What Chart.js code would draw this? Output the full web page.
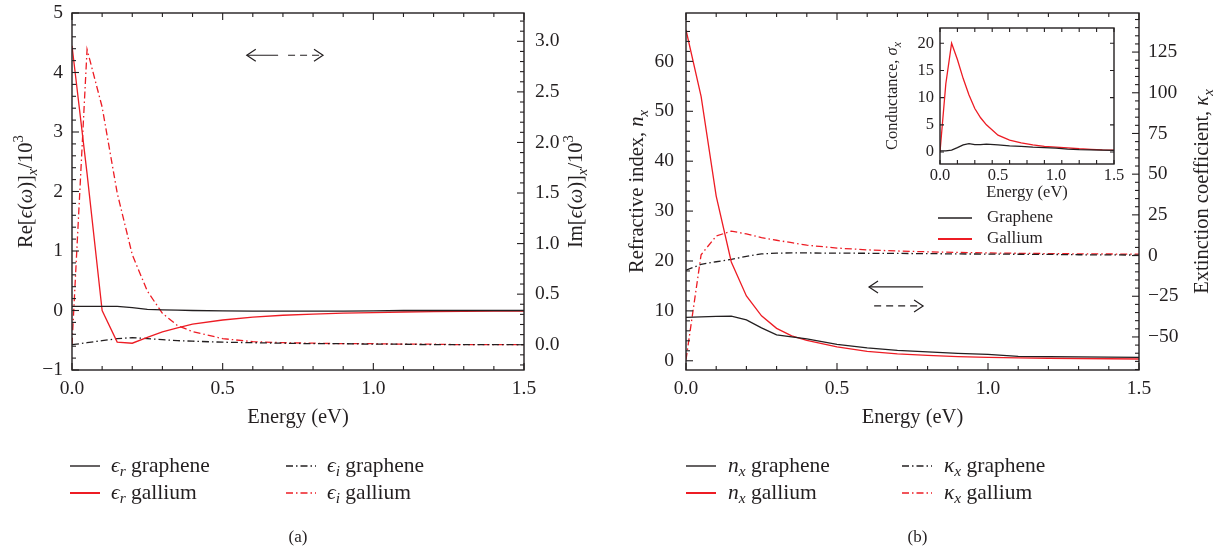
<!DOCTYPE html>
<html>
<head>
<meta charset="utf-8">
<script src="https://cdn.jsdelivr.net/npm/chart.js@4.4.1/dist/chart.umd.min.js"></script>
<style>
  html, body { margin: 0; padding: 0; background: #fff; }
  #wrap { position: relative; width: 1223px; height: 552px; overflow: hidden; }
  canvas { position: absolute; top: 0; }
  #pa { left: 0; }
  #pb { left: 612px; }
  #pc { left: 860px; }
</style>
</head>
<body>
<div id="wrap">
  <canvas id="pa" width="612" height="552"></canvas>
  <canvas id="pb" width="611" height="552"></canvas>
  <canvas id="pc" width="270" height="260"></canvas>
</div>
<script>
// ---- data ----
const energy = [0, 0.05, 0.1, 0.15, 0.2, 0.25, 0.3, 0.35, 0.4, 0.5, 0.6, 0.7, 0.8, 0.9, 1.0, 1.1, 1.2, 1.3, 1.4, 1.5];

// panel (a): dielectric function, /10^3
const erGraphene = [0.07, 0.07, 0.07, 0.07, 0.05, 0.02, 0.01, 0.005, 0.0, -0.005, -0.01, -0.01, -0.01, -0.01, -0.005, 0, 0, 0, 0, 0];
const erGallium  = [4.45, 2.3, 0.0, -0.53, -0.55, -0.45, -0.36, -0.29, -0.23, -0.16, -0.11, -0.08, -0.06, -0.045, -0.035, -0.025, -0.02, -0.015, -0.01, -0.01];
const eiGraphene = [0.0, 0.02, 0.04, 0.06, 0.07, 0.06, 0.05, 0.04, 0.035, 0.025, 0.02, 0.015, 0.01, 0.01, 0.005, 0.005, 0, 0, 0, 0];
const eiGallium  = [0.0, 2.92, 2.35, 1.50, 0.89, 0.53, 0.31, 0.19, 0.13, 0.06, 0.03, 0.02, 0.015, 0.01, 0.01, 0.005, 0.005, 0, 0, 0];

// panel (b): refractive index and extinction coefficient
const nGraphene = [8.7, 8.8, 8.9, 8.95, 8.2, 6.6, 5.2, 4.8, 4.4, 3.3, 2.6, 2.1, 1.8, 1.5, 1.3, 0.9, 0.85, 0.8, 0.75, 0.7];
const nGallium  = [66.3, 53, 33, 19.8, 13, 9, 6.5, 5, 4.1, 2.8, 1.9, 1.4, 1.1, 0.85, 0.7, 0.6, 0.5, 0.45, 0.4, 0.35];
const kGraphene = [-9, -5.4, -3.8, -2.3, -0.5, 1.0, 1.5, 1.6, 1.6, 1.5, 1.4, 1.3, 1.2, 1.0, 0.9, 0.8, 0.7, 0.5, 0.4, 0.3];
const kGallium  = [-64, 0.5, 12, 15, 13.3, 11, 9.4, 7.9, 6.4, 4.6, 3.5, 2.8, 2.3, 1.9, 1.6, 1.4, 1.2, 1.05, 0.95, 0.9];

// inset: conductance
const sigmaGraphene = [0.2, 0.2, 0.35, 0.8, 1.3, 1.55, 1.35, 1.35, 1.45, 1.3, 1.15, 1.05, 0.9, 0.8, 0.7, 0.55, 0.45, 0.4, 0.35, 0.3];
const sigmaGallium  = [0, 12.5, 20, 17, 13.5, 10.5, 8.0, 6.3, 5.0, 3.1, 2.2, 1.7, 1.3, 1.05, 0.9, 0.75, 0.6, 0.5, 0.4, 0.35];

// tick labels
const energyTicks = [0, 0.5, 1.0, 1.5];
const reTicks = [-1, 0, 1, 2, 3, 4, 5];
const imTicks = [0, 0.5, 1.0, 1.5, 2.0, 2.5, 3.0];
const nTicks = [0, 10, 20, 30, 40, 50, 60];
const kTicks = [-50, -25, 0, 25, 50, 75, 100, 125];
const sigmaTicks = [0, 5, 10, 15, 20];

// ---- styling ----
const FONT = '"Liberation Serif", "DejaVu Serif", serif';
const INK = '#231f20';
const RED = '#ed1c24';
const DASHDOT = [7, 3, 1.5, 3];

const xy = arr => energy.map((x, i) => ({ x: x, y: arr[i] }));
const minus = v => (v < 0 ? '\u2212' + Math.abs(v) : String(v));

function line(label, arr, color, dash, axis) {
  return {
    label: label, data: xy(arr), yAxisID: axis,
    borderColor: color, borderWidth: 1.3, borderDash: dash,
    pointRadius: 0, tension: 0, fill: false
  };
}

function richFont(style, size) {
  const small = style === 'b' || style === 'p';
  const it = style === 'i' || style === 'b' ? 'italic ' : '';
  return it + (small ? size * 0.72 : size) + 'px ' + FONT;
}

// draw text made of [text, style] parts: '' normal, 'i' italic, 'b' italic subscript, 'p' superscript
function rich(ctx, segs, x, y, size, rot, align) {
  ctx.save();
  ctx.translate(x, y);
  ctx.rotate(rot || 0);
  ctx.fillStyle = INK;
  ctx.textBaseline = 'middle';
  ctx.textAlign = 'left';
  let w = 0;
  segs.forEach(s => { ctx.font = richFont(s[1], size); w += ctx.measureText(s[0]).width; });
  let cx = align === 'left' ? 0 : -w / 2;
  segs.forEach(s => {
    ctx.font = richFont(s[1], size);
    const dy = s[1] === 'b' ? size * 0.28 : s[1] === 'p' ? -size * 0.38 : 0;
    ctx.fillText(s[0], cx, dy);
    cx += ctx.measureText(s[0]).width;
  });
  ctx.restore();
}

function arrowLine(ctx, x1, x2, y, dashed) {
  const dir = x2 > x1 ? 1 : -1;
  ctx.setLineDash(dashed ? [7, 5] : []);
  ctx.beginPath(); ctx.moveTo(x1, y); ctx.lineTo(x2, y); ctx.stroke();
  ctx.setLineDash([]);
  ctx.beginPath();
  ctx.moveTo(x2 - dir * 9, y - 6); ctx.lineTo(x2, y); ctx.lineTo(x2 - dir * 9, y + 6);
  ctx.stroke();
}

// frame, inward ticks, titles, arrows and legend, all placed from the chart's own scales
function decor(cfg) {
  return {
    id: 'decor',
    afterDatasetsDraw(chart) {
      const ctx = chart.ctx, a = chart.chartArea;
      ctx.save();
      ctx.strokeStyle = INK;
      ctx.lineWidth = 1.4;
      ctx.setLineDash([]);
      ctx.strokeRect(a.left, a.top, a.right - a.left, a.bottom - a.top);
      ctx.lineWidth = 1.1;
      cfg.ticks.forEach(t => {
        const s = chart.scales[t.id];
        const k0 = Math.ceil((s.min - 1e-9) / t.minor), k1 = Math.floor((s.max + 1e-9) / t.minor);
        for (let k = k0; k <= k1; k++) {
          const v = k * t.minor;
          const major = t.major && Math.abs(v / t.major - Math.round(v / t.major)) < 1e-6;
          const len = major ? t.long : t.short;
          const p = s.getPixelForValue(v);
          ctx.beginPath();
          t.sides.forEach(side => {
            if (side === 'bottom') { ctx.moveTo(p, a.bottom); ctx.lineTo(p, a.bottom - len); }
            if (side === 'top') { ctx.moveTo(p, a.top); ctx.lineTo(p, a.top + len); }
            if (side === 'left') { ctx.moveTo(a.left, p); ctx.lineTo(a.left + len, p); }
            if (side === 'right') { ctx.moveTo(a.right, p); ctx.lineTo(a.right - len, p); }
          });
          ctx.stroke();
        }
      });
      ctx.lineWidth = 1.2;
      (cfg.arrows || []).forEach(ar => {
        const sx = chart.scales.x, sy = chart.scales[ar.axis];
        arrowLine(ctx, sx.getPixelForValue(ar.from), sx.getPixelForValue(ar.to), sy.getPixelForValue(ar.y), ar.dashed);
      });
      const cxm = (a.left + a.right) / 2, cym = (a.top + a.bottom) / 2;
      const tt = cfg.titles;
      rich(ctx, tt.x, cxm, a.bottom + tt.xGap, tt.size, 0);
      rich(ctx, tt.left, a.left - tt.leftGap, cym, tt.size, -Math.PI / 2);
      if (tt.right) rich(ctx, tt.right, a.right + tt.rightGap, cym, tt.size, -Math.PI / 2);
      const lg = cfg.legend;
      lg.items.forEach(it => {
        const x0 = a.left + it.col, y0 = it.row;
        ctx.strokeStyle = it.color;
        ctx.lineWidth = it.color === RED && !it.dash.length ? 2 : 1.4;
        ctx.setLineDash(it.dash);
        ctx.beginPath(); ctx.moveTo(x0, y0); ctx.lineTo(x0 + lg.sample, y0); ctx.stroke();
        ctx.setLineDash([]);
        rich(ctx, it.segs, x0 + lg.textGap, y0, lg.size, 0, 'left');
      });
      if (cfg.caption) rich(ctx, [[cfg.caption, '']], cxm + cfg.captionShift, cfg.captionY, 17, 0);
      ctx.restore();
    }
  };
}

function axis(pos, min, max, ticks, fmt, size, pad, fit) {
  const o = {
    type: 'linear', position: pos, min: min, max: max,
    afterBuildTicks: s => { s.ticks = ticks.map(v => ({ value: v })); },
    ticks: { font: { family: FONT, size: size }, color: INK, padding: pad, autoSkip: false, maxRotation: 0, callback: fmt },
    grid: { display: false, drawTicks: false },
    border: { display: false }
  };
  // fixed box sizes, and no extra room for overhanging end labels
  if (pos === 'bottom') o.afterFit = s => { s.height = fit; s.paddingLeft = 0; s.paddingRight = 0; };
  else o.afterFit = s => { s.width = fit; s.paddingTop = 0; s.paddingBottom = 0; };
  return o;
}

const baseOpts = (padding, scales) => ({
  responsive: false, animation: false,
  layout: { padding: padding },
  plugins: { legend: { display: false }, tooltip: { enabled: false } },
  scales: scales
});

// ---- panel (a) ----
new Chart(document.getElementById('pa'), {
  type: 'line',
  data: { datasets: [
    line('\u03f5r graphene', erGraphene, INK, [], 'y'),
    line('\u03f5r gallium', erGallium, RED, [], 'y'),
    line('\u03f5i graphene', eiGraphene, INK, DASHDOT, 'y2'),
    line('\u03f5i gallium', eiGallium, RED, DASHDOT, 'y2')
  ] },
  options: baseOpts({ top: 13, bottom: 122, left: 0, right: 0 }, {
    x: axis('bottom', 0, 1.5, energyTicks, v => v.toFixed(1), 19.5, 7, 60),
    y: axis('left', -1, 5, reTicks, minus, 19.5, 9, 72),
    y2: axis('right', -0.25, 3.28, imTicks, v => v.toFixed(1), 19.5, 11, 88)
  }),
  plugins: [decor({
    ticks: [
      { id: 'x', major: 0.5, minor: 0.1, long: 7, short: 4, sides: ['bottom', 'top'] },
      { id: 'y', major: 1, minor: 0.2, long: 7, short: 4, sides: ['left'] },
      { id: 'y2', major: 0.5, minor: 0.1, long: 7, short: 4, sides: ['right'] }
    ],
    arrows: [
      { axis: 'y', y: 4.29, from: 0.684, to: 0.58, dashed: false },
      { axis: 'y', y: 4.29, from: 0.717, to: 0.833, dashed: true }
    ],
    titles: {
      size: 20.5, xGap: 48, leftGap: 45, rightGap: 53,
      x: [['Energy (eV)', '']],
      left: [['Re[', ''], ['\u03f5', 'i'], ['(', ''], ['\u03c9', 'i'], [')]', ''], ['x', 'b'], ['/10', ''], ['3', 'p']],
      right: [['Im[', ''], ['\u03f5', 'i'], ['(', ''], ['\u03c9', 'i'], [')]', ''], ['x', 'b'], ['/10', ''], ['3', 'p']]
    },
    legend: {
      size: 21.5, sample: 30, textGap: 41,
      items: [
        { col: -2, row: 466, color: INK, dash: [], segs: [['\u03f5', 'i'], ['r', 'b'], [' graphene', '']] },
        { col: -2, row: 493, color: RED, dash: [], segs: [['\u03f5', 'i'], ['r', 'b'], [' gallium', '']] },
        { col: 214, row: 466, color: INK, dash: DASHDOT, segs: [['\u03f5', 'i'], ['i', 'b'], [' graphene', '']] },
        { col: 214, row: 493, color: RED, dash: DASHDOT, segs: [['\u03f5', 'i'], ['i', 'b'], [' gallium', '']] }
      ]
    },
    caption: '(a)', captionShift: 0, captionY: 538
  })]
});

// ---- panel (b) ----
new Chart(document.getElementById('pb'), {
  type: 'line',
  data: { datasets: [
    line('nx graphene', nGraphene, INK, [], 'y'),
    line('nx gallium', nGallium, RED, [], 'y'),
    line('\u03bax graphene', kGraphene, INK, DASHDOT, 'y2'),
    line('\u03bax gallium', kGallium, RED, DASHDOT, 'y2')
  ] },
  options: baseOpts({ top: 13, bottom: 122, left: 0, right: 0 }, {
    x: axis('bottom', 0, 1.5, energyTicks, v => v.toFixed(1), 19.5, 7, 60),
    y: axis('left', -1.85, 69.7, nTicks, minus, 19.5, 12, 74),
    y2: axis('right', -70.3, 149, kTicks, minus, 19.5, 9, 84)
  }),
  plugins: [decor({
    ticks: [
      { id: 'x', major: 0.5, minor: 0.1, long: 7, short: 4, sides: ['bottom', 'top'] },
      { id: 'y', major: 10, minor: 2, long: 7, short: 4, sides: ['left'] },
      { id: 'y2', major: 25, minor: 5, long: 7, short: 4, sides: ['right'] }
    ],
    arrows: [
      { axis: 'y', y: 14.8, from: 0.785, to: 0.606, dashed: false },
      { axis: 'y', y: 11.0, from: 0.623, to: 0.785, dashed: true }
    ],
    titles: {
      size: 20.5, xGap: 48, leftGap: 48, rightGap: 64,
      x: [['Energy (eV)', '']],
      left: [['Refractive index, ', ''], ['n', 'i'], ['x', 'b']],
      right: [['Extinction coefficient, ', ''], ['\u03ba', 'i'], ['x', 'b']]
    },
    legend: {
      size: 21.5, sample: 30, textGap: 42,
      items: [
        { col: 0, row: 466, color: INK, dash: [], segs: [['n', 'i'], ['x', 'b'], [' graphene', '']] },
        { col: 0, row: 493, color: RED, dash: [], segs: [['n', 'i'], ['x', 'b'], [' gallium', '']] },
        { col: 216, row: 466, color: INK, dash: DASHDOT, segs: [['\u03ba', 'i'], ['x', 'b'], [' graphene', '']] },
        { col: 216, row: 493, color: RED, dash: DASHDOT, segs: [['\u03ba', 'i'], ['x', 'b'], [' gallium', '']] }
      ]
    },
    caption: '(b)', captionShift: 5, captionY: 538
  })]
});

// ---- inset: conductance ----
new Chart(document.getElementById('pc'), {
  type: 'line',
  data: { datasets: [
    line('Graphene', sigmaGraphene, INK, [], 'y'),
    line('Gallium', sigmaGallium, RED, [], 'y')
  ] },
  options: baseOpts({ top: 28, bottom: 36, left: 0, right: 16 }, {
    x: axis('bottom', 0, 1.5, energyTicks, v => v.toFixed(1), 16.5, 2, 60),
    y: axis('left', -2.2, 22.8, sigmaTicks, minus, 16.5, 6, 80)
  }),
  plugins: [decor({
    ticks: [
      { id: 'x', major: 0, minor: 0.15, long: 4, short: 4, sides: ['bottom', 'top'] },
      { id: 'y', major: 0, minor: 5, long: 4, short: 4, sides: ['left', 'right'] }
    ],
    titles: {
      size: 16.5, xGap: 29, leftGap: 47,
      x: [['Energy (eV)', '']],
      left: [['Conductance, ', ''], ['\u03c3', 'i'], ['x', 'b']]
    },
    legend: {
      size: 17, sample: 34, textGap: 49,
      items: [
        { col: -2, row: 218, color: INK, dash: [], segs: [['Graphene', '']] },
        { col: -2, row: 239, color: RED, dash: [], segs: [['Gallium', '']] }
      ]
    }
  })]
});
</script>
</body>
</html>
